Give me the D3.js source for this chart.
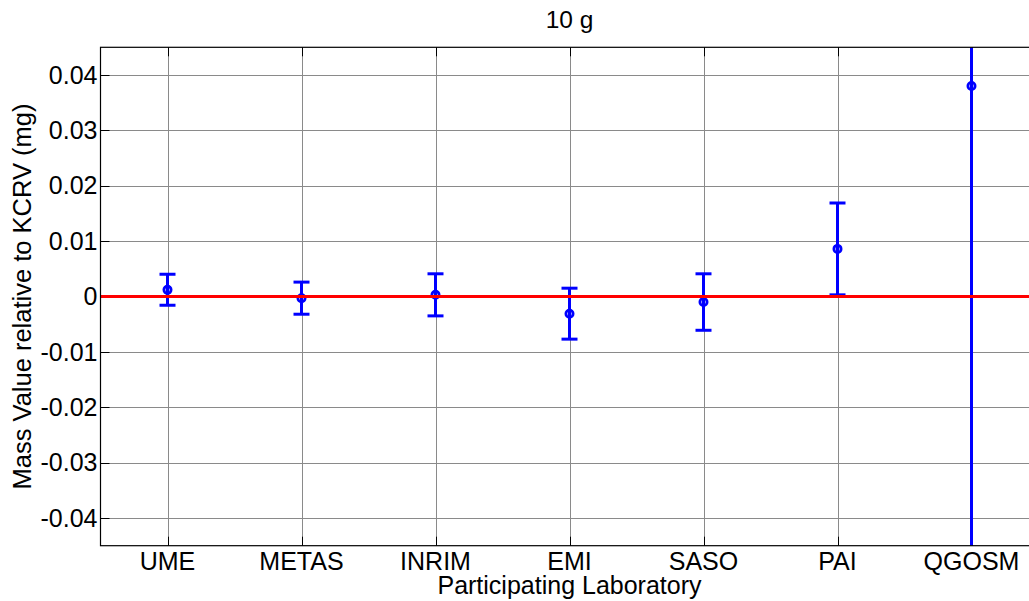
<!DOCTYPE html>
<html>
<head>
<meta charset="utf-8">
<script src="https://cdn.jsdelivr.net/npm/d3@7"></script>
<style>
  html, body { margin: 0; padding: 0; background: #fff; }
  svg { display: block; font-family: "Liberation Sans", Arial, sans-serif; }
</style>
</head>
<body>
<div id="chart"></div>
<script>
const TITLE = "10 g";
const LABS = ["UME", "METAS", "INRIM", "EMI", "SASO", "PAI", "QGOSM"];
const VALUES = [0.0012, -0.0003, 0.0003, -0.0031, -0.0010, 0.0086, 0.0380];
const UNCERT = [0.0028, 0.0029, 0.0038, 0.0046, 0.0051, 0.0083, 0.0900];
const Y_TICKS = [-0.04, -0.03, -0.02, -0.01, 0, 0.01, 0.02, 0.03, 0.04];

const width = 1029;
const height = 601;
const margin = { top: 47.3, left: 100.5 };
const plotW = 938;
const plotH = 498.4;

const svg = d3.select("#chart")
  .append("svg")
  .attr("width", width)
  .attr("height", height);

const x = d3.scaleLinear().domain([0.5, LABS.length + 0.5]).range([margin.left, margin.left + plotW]);
const y = d3.scaleLinear().domain([-0.045, 0.045]).range([margin.top + plotH, margin.top]);

const fmtTick = (d) => (d === 0 ? "0" : d3.format(".2f")(d).replace("\u2212", "-"));
const px = (v) => Math.round(v) + 0.5;

svg.append("defs").append("clipPath").attr("id", "clip")
  .append("rect")
  .attr("x", margin.left).attr("y", margin.top)
  .attr("width", plotW).attr("height", plotH);

// grid
const grid = svg.append("g").attr("stroke", "#8a8a8a").attr("stroke-width", 1);
grid.selectAll("line.h").data(Y_TICKS).join("line")
  .attr("class", "h")
  .attr("x1", margin.left).attr("x2", margin.left + plotW)
  .attr("y1", (d) => px(y(d))).attr("y2", (d) => px(y(d)));
grid.selectAll("line.v").data(LABS).join("line")
  .attr("class", "v")
  .attr("x1", (d, i) => px(x(i + 1))).attr("x2", (d, i) => px(x(i + 1)))
  .attr("y1", margin.top).attr("y2", margin.top + plotH);

// axis ticks (inward)
const ticks = svg.append("g").attr("stroke", "#000").attr("stroke-width", 1);
ticks.selectAll("line.yt").data(Y_TICKS).join("line")
  .attr("class", "yt")
  .attr("x1", margin.left).attr("x2", margin.left + 9)
  .attr("y1", (d) => px(y(d))).attr("y2", (d) => px(y(d)));
ticks.selectAll("line.xb").data(LABS).join("line")
  .attr("class", "xb")
  .attr("x1", (d, i) => px(x(i + 1))).attr("x2", (d, i) => px(x(i + 1)))
  .attr("y1", margin.top + plotH).attr("y2", margin.top + plotH - 9);
ticks.selectAll("line.xt").data(LABS).join("line")
  .attr("class", "xt")
  .attr("x1", (d, i) => px(x(i + 1))).attr("x2", (d, i) => px(x(i + 1)))
  .attr("y1", margin.top).attr("y2", margin.top + 9);

// error bars
const bars = svg.append("g").attr("clip-path", "url(#clip)")
  .selectAll("g").data(LABS).join("g")
  .attr("stroke", "#0000ff").attr("stroke-width", 3).attr("fill", "none");

bars.append("line")
  .attr("x1", (d, i) => x(i + 1)).attr("x2", (d, i) => x(i + 1))
  .attr("y1", (d, i) => y(VALUES[i] - UNCERT[i]))
  .attr("y2", (d, i) => y(VALUES[i] + UNCERT[i]));
bars.append("line")
  .attr("x1", (d, i) => x(i + 1) - 8).attr("x2", (d, i) => x(i + 1) + 8)
  .attr("y1", (d, i) => y(VALUES[i] + UNCERT[i]))
  .attr("y2", (d, i) => y(VALUES[i] + UNCERT[i]));
bars.append("line")
  .attr("x1", (d, i) => x(i + 1) - 8).attr("x2", (d, i) => x(i + 1) + 8)
  .attr("y1", (d, i) => y(VALUES[i] - UNCERT[i]))
  .attr("y2", (d, i) => y(VALUES[i] - UNCERT[i]));
bars.append("circle")
  .attr("cx", (d, i) => x(i + 1))
  .attr("cy", (d, i) => y(VALUES[i]))
  .attr("r", 3.6)
  .attr("stroke-width", 2.8);

// reference line at zero
svg.append("line")
  .attr("x1", margin.left).attr("x2", margin.left + plotW)
  .attr("y1", y(0)).attr("y2", y(0))
  .attr("stroke", "#ff0000").attr("stroke-width", 3);

// frame
svg.append("rect")
  .attr("x", margin.left).attr("y", margin.top)
  .attr("width", plotW).attr("height", plotH)
  .attr("fill", "none").attr("stroke", "#000").attr("stroke-width", 1.2);

// tick labels
svg.append("g")
  .attr("font-size", 25).attr("text-anchor", "end")
  .selectAll("text").data(Y_TICKS).join("text")
  .attr("x", margin.left - 3)
  .attr("y", (d) => y(d))
  .attr("dy", "0.35em")
  .text(fmtTick);

svg.append("g")
  .attr("font-size", 25).attr("text-anchor", "middle")
  .selectAll("text").data(LABS).join("text")
  .attr("x", (d, i) => x(i + 1))
  .attr("y", 570)
  .text((d) => d);

// title and labels
svg.append("text")
  .attr("x", x(4)).attr("y", 28)
  .attr("font-size", 24.5).attr("text-anchor", "middle")
  .text(TITLE);

svg.append("text")
  .attr("x", x(4)).attr("y", 594)
  .attr("font-size", 25).attr("text-anchor", "middle")
  .text("Participating Laboratory");

svg.append("text")
  .attr("transform", `translate(31,${y(0)}) rotate(-90)`)
  .attr("font-size", 25.5).attr("text-anchor", "middle")
  .text("Mass Value relative to KCRV (mg)");
</script>
</body>
</html>
